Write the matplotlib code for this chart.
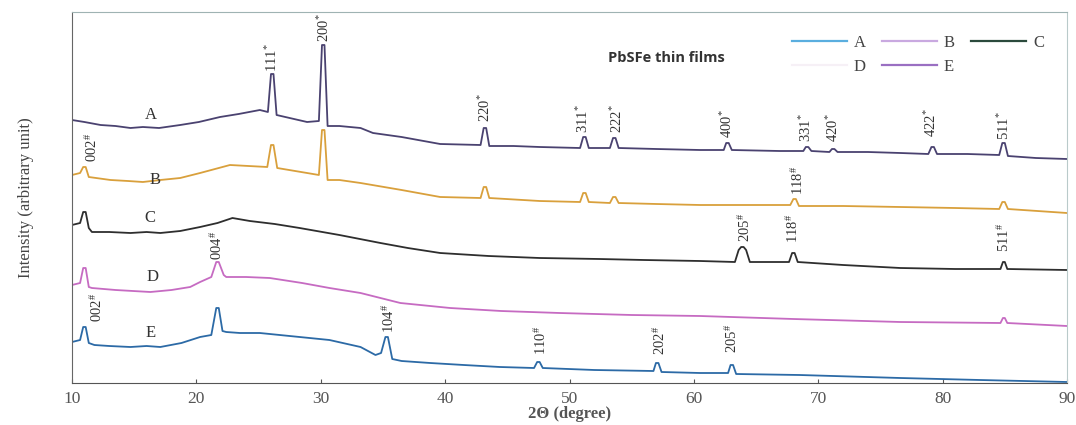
import matplotlib
matplotlib.use("Agg")
import matplotlib.pyplot as plt
from matplotlib.lines import Line2D

plt.rcParams["font.family"] = ["Liberation Serif", "DejaVu Serif"]
plt.rcParams["mathtext.default"] = "regular"

# ---- XRD patterns (2-theta in degrees, intensity in arbitrary offset units) ----
a_tt = [10.0, 11.0, 12.3, 13.5, 14.7, 15.7, 17.0, 18.7, 20.2, 21.9, 23.4, 25.1,
        25.75, 26.0, 26.2, 26.45, 27.5, 28.9, 29.85, 30.1, 30.3, 30.55,
        31.5, 33.2, 34.2, 36.5, 39.6, 42.85, 43.1, 43.3, 43.55, 45.5, 47.6,
        50.85, 51.1, 51.3, 51.55, 53.25, 53.5, 53.7, 53.95, 57.0, 60.5,
        62.4, 62.6, 62.8, 63.05, 66.9, 68.8, 69.0, 69.2, 69.45,
        70.9, 71.1, 71.3, 71.55, 74.0, 76.6, 78.85, 79.1, 79.3, 79.55, 82.0,
        84.55, 84.8, 85.0, 85.25, 87.5, 90.0]
a_int = [263, 261, 258, 257, 255, 256, 255, 258, 261, 266, 269, 273,
         271, 309, 309, 268, 265, 261, 262, 338, 338, 257,
         257, 255, 250, 246, 239, 238, 255, 255, 237, 237, 236,
         235, 246, 246, 235, 235, 245, 245, 235, 234, 233,
         233, 240, 240, 233, 232, 232, 236, 236, 232,
         231, 234, 234, 231, 231, 230, 229, 236, 236, 229, 229,
         228, 240, 240, 227, 225, 224]

b_tt = [10.0, 10.65, 10.9, 11.1, 11.35, 13.1, 14.5, 15.7, 17.1, 18.7, 20.3, 22.7, 24.2,
        25.7, 26.0, 26.2, 26.5, 28.9, 29.85, 30.1, 30.3, 30.55, 31.5, 33.2, 36.5, 39.6,
        42.85, 43.1, 43.3, 43.55, 47.6, 50.85, 51.1, 51.3, 51.55,
        53.25, 53.5, 53.7, 53.95, 57.0, 60.5, 66.9, 67.75, 68.0, 68.2, 68.45,
        72.0, 76.6, 81.0, 84.55, 84.8, 85.0, 85.25, 90.0]
b_int = [208, 210, 216, 216, 206, 203, 202, 201, 203, 205, 210, 218, 217,
         216, 238, 238, 215, 210, 208, 253, 253, 203, 203, 200, 193, 186,
         185, 196, 196, 185, 182, 181, 190, 190, 181,
         180, 186, 186, 180, 179, 178, 178, 178, 184, 184, 177,
         177, 176, 175, 174, 181, 181, 174, 170]

c_tt = [10.0, 10.65, 10.9, 11.1, 11.35, 11.6, 13.0, 14.7, 16.0, 17.1, 18.7, 20.3, 21.7,
        22.9, 24.3, 26.3, 28.3, 31.5, 34.8, 37.0, 39.6, 43.5, 47.6, 52.4, 56.0, 60.5,
        63.3, 63.6, 63.8, 64.0, 64.2, 64.5, 67.65, 67.9, 68.1, 68.35,
        72.0, 76.6, 81.0, 84.65, 84.85, 85.0, 85.2, 90.0]
c_int = [158, 160, 171, 171, 155, 151, 151, 150, 151, 150, 152, 156, 160,
         165, 162, 159, 155, 148, 140, 135, 130, 127, 125, 124, 123, 122,
         121, 133, 136, 136, 133, 121, 121, 130, 130, 121,
         118, 115, 114, 114, 121, 121, 114, 113]

d_tt = [10.0, 10.65, 10.9, 11.1, 11.35, 11.6, 13.5, 16.3, 18.0, 19.5, 20.3, 21.2, 21.6,
        21.8, 22.2, 22.4, 24.0, 25.9, 28.5, 30.7, 33.2, 36.4, 40.4, 44.5, 49.2, 55.0,
        60.5, 68.0, 76.6, 84.65, 84.85, 85.0, 85.2, 90.0]
d_int = [98, 100, 115, 115, 96, 95, 93, 91, 93, 96, 101, 106, 121,
         121, 108, 106, 106, 105, 100, 95, 90, 80, 75, 72, 70, 68,
         67, 64, 61, 60, 65, 65, 60, 57]

e_tt = [10.0, 10.65, 10.9, 11.1, 11.35, 11.8, 13.0, 14.7, 16.0, 17.1, 18.8, 20.3, 21.2,
        21.6, 21.8, 22.1, 22.4, 23.5, 25.1, 27.5, 30.7, 33.2, 34.4, 34.85, 35.2, 35.4,
        35.75, 36.5, 38.8, 41.5, 44.4, 47.15, 47.4, 47.6, 47.85, 52.0,
        56.75, 56.95, 57.15, 57.4, 60.5, 62.75, 62.95, 63.15, 63.4,
        68.5, 76.6, 83.0, 90.0]
e_int = [41, 43, 56, 56, 40, 38, 37, 36, 37, 36, 40, 46, 48,
         75, 75, 52, 51, 50, 50, 47, 43, 36, 28, 30, 46, 46,
         24, 22, 20, 18, 16, 15, 21, 21, 15, 13,
         12, 20, 20, 11, 10, 10, 18, 18, 9,
         8, 5, 3, 1]

series_names = ["A", "B", "C", "D", "E"]
series_tt = [a_tt, b_tt, c_tt, d_tt, e_tt]
series_int = [a_int, b_int, c_int, d_int, e_int]
series_colors = ["#4a4270", "#d9a03c", "#2e2e2e", "#c66bc2", "#2c6aa6"]

# curve name positions (2-theta, intensity)
name_tt = [16.3, 16.7, 16.3, 16.5, 16.3]
name_int = [268, 203, 165, 106, 50]

# reflection labels: text, mark, 2-theta, intensity at label base
hkl_text = ["111", "200", "220", "311", "222", "400", "331", "420", "422", "511",
            "002", "118",
            "205", "118", "511",
            "004",
            "002", "104", "110", "202", "205"]
hkl_mark = ["*"] * 10 + ["#"] * 11
hkl_tt = [26.1, 30.3, 43.2, 51.1, 53.8, 62.7, 69.0, 71.2, 79.1, 84.9,
          11.6, 68.4,
          64.1, 68.0, 84.9,
          21.7,
          12.0, 35.5, 47.7, 57.3, 63.1]
hkl_int = [311, 341, 261, 250, 250, 245, 241, 241, 246, 243,
           221, 188,
           141, 140, 131,
           123,
           61, 50, 28, 28, 30]

# legend styling (as in the source figure); D's line is almost invisible there
legend_colors = ["#5aaedf", "#c9a9e0", "#2b4a3c", "#f6f0f6", "#9a6fc2"]

x_ticks = [10, 20, 30, 40, 50, 60, 70, 80, 90]


def draw_patterns(ax):
    for tt, inten, col in zip(series_tt, series_int, series_colors):
        ax.plot(tt, inten, color=col, lw=1.3, solid_joinstyle="round")

    for name, x, y in zip(series_names, name_tt, name_int):
        ax.text(x, y, name, fontsize=12, color="#333333", ha="center", va="center")

    for txt, mk, x, y in zip(hkl_text, hkl_mark, hkl_tt, hkl_int):
        ax.text(x, y, txt + "$^{" + ("\\#" if mk == "#" else "*") + "}$",
                rotation=90, fontsize=10.5, color="#333333",
                ha="center", va="bottom")


def style_axes(ax):
    ax.set_xlim(10, 90)
    ax.set_ylim(0, 371)
    ax.set_xticks(x_ticks)
    ax.set_yticks([])
    ax.tick_params(axis="x", direction="in", length=3, color="#555555",
                   labelsize=12.5, labelcolor="#555555", pad=6)
    ax.spines["left"].set_color("#666666")
    ax.spines["bottom"].set_color("#555555")
    ax.spines["top"].set_color("#9fb3b3")
    ax.spines["right"].set_color("#b9caca")
    ax.set_xlabel("2\u0398 (degree)", fontsize=12, color="#555555",
                  fontweight="bold", labelpad=-1)
    ax.set_ylabel("Intensity (arbitrary unit)", fontsize=12, color="#444444",
                  labelpad=27)

    ax.text(0.597, 0.875, "PbSFe thin films", transform=ax.transAxes,
            family=["Open Sans", "DejaVu Sans"], fontweight="bold",
            fontsize=10.5, color="#333333", ha="center", va="center")

    # column-major fill: order so rows read A B C / D E
    order = [0, 3, 1, 4, 2]
    handles = [Line2D([0], [0], color=legend_colors[i], lw=1.6) for i in order]
    labels = [series_names[i] for i in order]
    ax.legend(handles, labels, ncol=3, loc="upper left",
              bbox_to_anchor=(0.715, 0.96), frameon=False, fontsize=12,
              handlelength=3.3, handletextpad=0.4, columnspacing=1.0,
              labelspacing=0.45, borderpad=0, labelcolor="#444444")


def main():
    fig = plt.figure(figsize=(10.76, 4.25), dpi=100)
    ax = fig.add_axes([72 / 1076, 42 / 425, 995 / 1076, 371 / 425])
    draw_patterns(ax)
    style_axes(ax)
    fig.savefig("out.png", dpi=100)
    plt.close(fig)


if __name__ == "__main__":
    main()
